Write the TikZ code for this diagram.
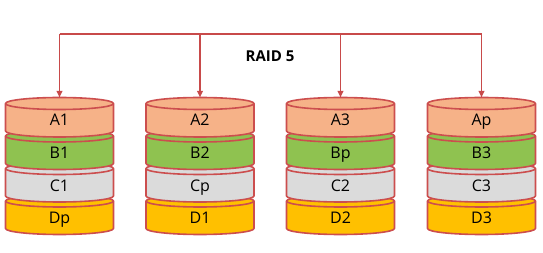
\documentclass[tikz,border=0pt]{standalone}
\usepackage{fontspec}
\setmainfont{Open Sans}
\usetikzlibrary{arrows.meta, positioning}

\definecolor{diskred}{RGB}{204,78,78}
\definecolor{busred}{RGB}{200,74,74}
\definecolor{layera}{RGB}{246,178,136}
\definecolor{layerb}{RGB}{143,194,80}
\definecolor{layerc}{RGB}{219,219,219}
\definecolor{layerd}{RGB}{255,192,0}

\tikzset{
  layer/.style={draw=diskred, line width=1.6pt, line join=round},
  lbl/.style={font=\fontsize{16}{16}\selectfont, anchor=base, inner sep=0pt},
  title/.style={font=\fontsize{15}{15}\selectfont\bfseries, anchor=base, inner sep=0pt},
  bus/.style={draw=busred, line width=1.6pt},
  feed/.style={bus, -{Triangle[length=6.5pt,width=5.5pt]}}
}

% one slice of a disk: centre x, top y, fill
\newcommand{\diskslice}[3]{%
  \filldraw[layer, fill=#3] (#1-54,#2) -- ++(0,27.5)
    arc[start angle=180, end angle=0, x radius=54, y radius=6] -- ++(0,-27.5)
    arc[start angle=0, end angle=-180, x radius=54, y radius=6] -- cycle;
  \draw[layer] (#1-54,#2)
    arc[start angle=180, end angle=0, x radius=54, y radius=6];
}

\begin{document}
\begin{tikzpicture}[x=1pt, y=-1pt]
  \useasboundingbox (0,0) rectangle (543,253);
  % Disks, bottom slice first
  \foreach \d/\cx/\la/\lb/\lc/\ld in {1/59.5/A1/B1/C1/Dp, 2/200/A2/B2/Cp/D1,
                                      3/340.5/A3/Bp/C2/D2, 4/481.5/Ap/B3/C3/D3} {
    \diskslice{\cx}{201}{layerd}
    \diskslice{\cx}{168.5}{layerc}
    \diskslice{\cx}{136}{layerb}
    \diskslice{\cx}{103.5}{layera}
    \node[lbl] (a\d) at (\cx,125.5) {\la};
    \node[lbl] (b\d) at (\cx,158.5) {\lb};
    \node[lbl] (c\d) at (\cx,191.5) {\lc};
    \node[lbl] (d\d) at (\cx,223.5) {\ld};
    \coordinate (top\d) at (\cx,97.5);
    \coordinate (bus\d) at (\cx,34);
  }
  % Bus
  \draw[bus] (bus1) -- (bus4);
  \foreach \d in {1,...,4}
    \draw[feed] (bus\d) -- (top\d);
  \node[title] (raid) at (270,62) {RAID 5};
\end{tikzpicture}
\end{document}
